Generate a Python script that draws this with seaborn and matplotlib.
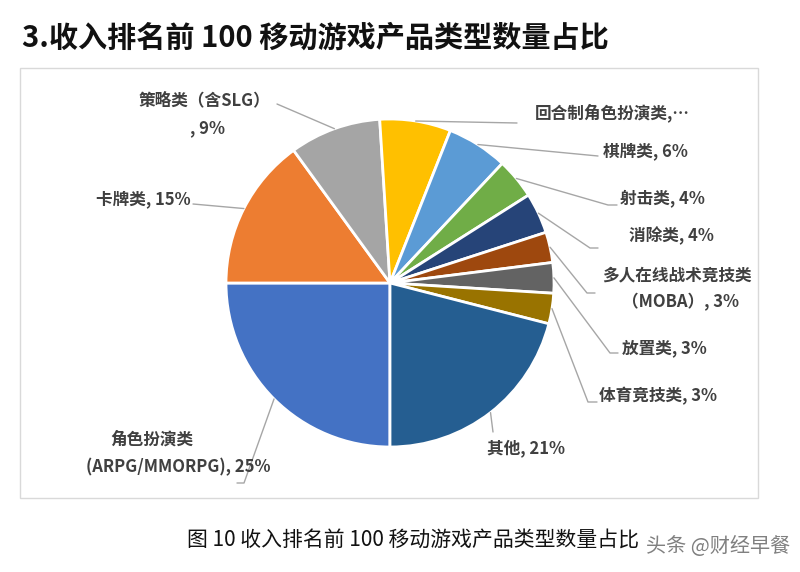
import matplotlib
matplotlib.use("Agg")
import matplotlib.pyplot as plt
from matplotlib.patches import Rectangle
import numpy as np
import seaborn as sns

sns.set_theme(style="white")
plt.rcParams['font.family'] = ['Noto Sans CJK SC', 'DejaVu Sans']

# data, in Excel's series order (first slice starts at 6 o'clock, clockwise)
names = ["角色扮演类\n(ARPG/MMORPG)", "卡牌类", "策略类（含SLG）\n", "回合制角色扮演类",
         "棋牌类", "射击类", "消除类", "多人在线战术竞技类\n（MOBA）", "放置类",
         "体育竞技类", "其他"]
shares = [25, 15, 9, 7, 6, 4, 4, 3, 3, 3, 21]
colors = ["#4472C4", "#ED7D31", "#A5A5A5", "#FFC000", "#5B9BD5", "#70AD47",
          "#264478", "#9E480E", "#636363", "#997300", "#255E91"]

# label layout in pixels (x, y per text line) and leader line elbows
label_pos = [[(152, 440), (178, 467)], [(143, 199)], [(204, 100), (208, 128)],
             [(612, 113)], [(645, 151)], [(662, 198)], [(671, 236)],
             [(677, 275), (681, 302)], [(664, 348)], [(658, 396)], [(526, 448)]]
leader_pts = [[(244, 483), (237, 483)], [(193, 204)], [(277, 104)], [(517, 123)],
              [(598, 156)], [(608, 205), (617, 205)], [(590, 248), (598, 248)],
              [(587, 293), (595, 293)], [(610, 353), (618, 353)],
              [(588, 402), (597, 402)], [(493, 432)]]

W, H = 800, 572
fig = plt.figure(figsize=(W / 100, H / 100), dpi=100)
ax = fig.add_axes([0, 0, 1, 1])

cx, cy, r = 390, 283, 164
# y axis is flipped, so counterclock in data = clockwise on screen
wedges, _ = ax.pie(shares, colors=sns.color_palette(colors), startangle=90,
                   counterclock=True, center=(cx, cy), radius=r,
                   wedgeprops=dict(edgecolor="white", linewidth=2))
ax.set_xlim(0, W)
ax.set_ylim(H, 0)
ax.set_aspect("auto")
ax.axis("off")

# chart frame
ax.add_patch(Rectangle((20, 68), 738, 430, fill=False, ec="#d9d9d9", lw=1))

txt_color = "#404040"
for i, (w, name, share) in enumerate(zip(wedges, names, shares)):
    mid = np.deg2rad((w.theta1 + w.theta2) / 2)
    start = (cx + r * np.cos(mid), cy + r * np.sin(mid))
    pts = [start] + leader_pts[i]
    ax.plot([p[0] for p in pts], [p[1] for p in pts], color="#a6a6a6", lw=1)

    if i == 3:
        label = name + ",…"
    else:
        label = f"{name}, {share}%"
    for line, (x, y) in zip(label.split("\n"), label_pos[i]):
        ax.text(x, y, line, ha="center", va="center", fontsize=12,
                fontweight="bold", color=txt_color)

# title, caption, watermark
ax.text(22, 38, "3.收入排名前 100 移动游戏产品类型数量占比", ha="left", va="center",
        fontsize=21, fontweight="bold", color="#111111")
ax.text(187, 540, "图 10 收入排名前 100 移动游戏产品类型数量占比", ha="left",
        va="center", fontsize=15, color="#111111")
ax.text(790, 546, "头条 @财经早餐", ha="right", va="center", fontsize=14.5,
        color="#808080")

plt.savefig("out.png", dpi=100)
